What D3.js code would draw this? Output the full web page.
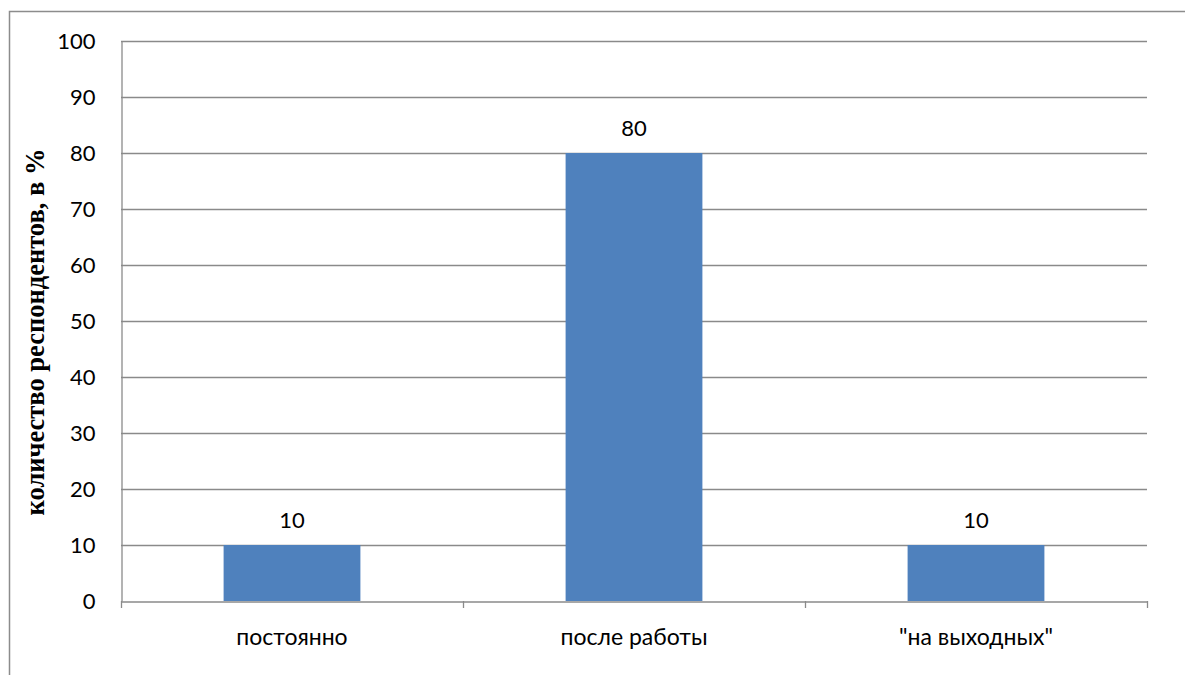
<!DOCTYPE html>
<html>
<head>
<meta charset="utf-8">
<script src="https://cdn.jsdelivr.net/npm/d3@7"></script>
<style>
  html, body { margin: 0; padding: 0; background: #fff; }
  svg { display: block; }
</style>
</head>
<body>
<svg id="chart" width="1185" height="675"></svg>
<script>
// Categories and respondent shares (%)
const categories = ["постоянно", "после работы", "\"на выходных\""];
const values = [10, 80, 10];
const yTicks = [0, 10, 20, 30, 40, 50, 60, 70, 80, 90, 100];
const yTitle = "количество респондентов, в %";

const W = 1185, H = 675;
const margin = { left: 121, right: 38, top: 41, bottom: 74 };
const svg = d3.select("#chart");

// Outer frame
svg.append("rect")
  .attr("x", 9.5).attr("y", 11.5)
  .attr("width", W).attr("height", H)
  .attr("fill", "none").attr("stroke", "#8c8c8c").attr("stroke-width", 1.5);

const x = d3.scaleBand().domain(categories)
  .range([margin.left, W - margin.right]).paddingInner(0).paddingOuter(0);
const y = d3.scaleLinear().domain([0, 100])
  .range([H - margin.bottom, margin.top]);

const font = "Lato, 'Open Sans', sans-serif";

// Horizontal gridlines
svg.append("g").selectAll("line").data(yTicks.filter(d => d > 0)).join("line")
  .attr("x1", margin.left).attr("x2", W - margin.right)
  .attr("y1", d => Math.round(y(d)) + 0.5).attr("y2", d => Math.round(y(d)) + 0.5)
  .attr("stroke", "#8a8a8a").attr("stroke-width", 1.3);

// Bars
const barW = x.bandwidth() * 0.4;
svg.append("g").selectAll("rect").data(values).join("rect")
  .attr("x", (d, i) => x(categories[i]) + (x.bandwidth() - barW) / 2)
  .attr("y", d => y(d))
  .attr("width", barW)
  .attr("height", d => y(0) - y(d))
  .attr("fill", "#4F81BD");

// Value labels
svg.append("g").selectAll("text").data(values).join("text")
  .attr("x", (d, i) => x(categories[i]) + x.bandwidth() / 2)
  .attr("y", d => y(d) - 17)
  .attr("text-anchor", "middle")
  .attr("font-family", font).attr("font-size", 22).attr("fill", "#000")
  .text(d => d);

// Y axis
const yAxis = svg.append("g")
  .attr("transform", `translate(${margin.left + 0.5},0)`)
  .call(d3.axisLeft(y).tickValues(yTicks).tickSize(0).tickPadding(26));
yAxis.select(".domain").attr("stroke", "#8a8a8a").attr("stroke-width", 1.3);
yAxis.selectAll("text")
  .attr("font-family", font).attr("font-size", 22).attr("fill", "#000");

// X axis
const xAxis = svg.append("g")
  .attr("transform", `translate(0,${Math.round(y(0)) + 0.5})`)
  .call(d3.axisBottom(x).tickSize(0).tickPadding(27));
xAxis.select(".domain").attr("stroke", "#8a8a8a").attr("stroke-width", 1.3);
xAxis.selectAll("text")
  .attr("font-family", font).attr("font-size", 23).attr("fill", "#000");

// Category boundary tick marks
const bounds = categories.map(c => x(c)).concat([x(categories[categories.length - 1]) + x.bandwidth()]);
svg.append("g").selectAll("line").data(bounds).join("line")
  .attr("x1", d => Math.round(d) + 0.5).attr("x2", d => Math.round(d) + 0.5)
  .attr("y1", y(0)).attr("y2", y(0) + 7)
  .attr("stroke", "#8a8a8a").attr("stroke-width", 1.3);

// Y axis title
svg.append("text")
  .attr("transform", `translate(44,332) rotate(-90)`)
  .attr("text-anchor", "middle")
  .attr("font-family", "'Liberation Serif', 'Times New Roman', serif")
  .attr("font-weight", "bold").attr("font-size", 26.5).attr("fill", "#000")
  .text(yTitle);
</script>
</body>
</html>
